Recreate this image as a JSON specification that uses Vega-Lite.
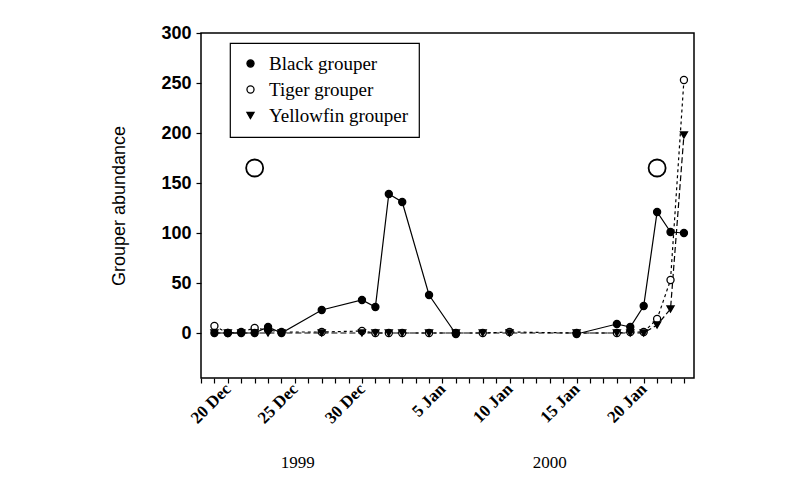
{
  "$schema": "https://vega.github.io/schema/vega-lite/v6.json",
  "autosize": {"type": "none"},
  "width": 493,
  "height": 345,
  "padding": {"left": 201, "top": 33, "right": 107, "bottom": 103},
  "background": "white",
  "config": {
    "view": {"stroke": "black", "strokeWidth": 1.5},
    "axis": {"labelColor": "black", "titleColor": "black", "tickColor": "black", "domain": false, "grid": false},
    "legend": {
      "orient": "none", "legendX": 29, "legendY": 10,
      "strokeColor": "black", "strokeWidth": 1.2, "padding": 11, "fillColor": "white",
      "labelFont": "Liberation Serif", "labelFontSize": 19, "labelColor": "black",
      "labelOffset": 9, "rowPadding": 6, "symbolSize": 50, "symbolStrokeWidth": 1.3
    }
  },
  "datasets": {
    "counts": [
      {"date": "1999-12-19", "species": "Tiger grouper", "n": 7},
      {"date": "1999-12-20", "species": "Tiger grouper", "n": 0},
      {"date": "1999-12-21", "species": "Tiger grouper", "n": 1},
      {"date": "1999-12-22", "species": "Tiger grouper", "n": 5},
      {"date": "1999-12-23", "species": "Tiger grouper", "n": 3},
      {"date": "1999-12-24", "species": "Tiger grouper", "n": 1},
      {"date": "1999-12-27", "species": "Tiger grouper", "n": 1},
      {"date": "1999-12-30", "species": "Tiger grouper", "n": 2},
      {"date": "1999-12-31", "species": "Tiger grouper", "n": 0},
      {"date": "2000-01-01", "species": "Tiger grouper", "n": 0},
      {"date": "2000-01-02", "species": "Tiger grouper", "n": 0},
      {"date": "2000-01-04", "species": "Tiger grouper", "n": 0},
      {"date": "2000-01-06", "species": "Tiger grouper", "n": 0},
      {"date": "2000-01-08", "species": "Tiger grouper", "n": 0},
      {"date": "2000-01-10", "species": "Tiger grouper", "n": 1},
      {"date": "2000-01-15", "species": "Tiger grouper", "n": 0},
      {"date": "2000-01-18", "species": "Tiger grouper", "n": 0},
      {"date": "2000-01-19", "species": "Tiger grouper", "n": 1},
      {"date": "2000-01-20", "species": "Tiger grouper", "n": 1},
      {"date": "2000-01-21", "species": "Tiger grouper", "n": 14},
      {"date": "2000-01-22", "species": "Tiger grouper", "n": 53},
      {"date": "2000-01-23", "species": "Tiger grouper", "n": 253},
      {"date": "1999-12-19", "species": "Black grouper", "n": 0},
      {"date": "1999-12-20", "species": "Black grouper", "n": 0},
      {"date": "1999-12-21", "species": "Black grouper", "n": 0},
      {"date": "1999-12-22", "species": "Black grouper", "n": 0},
      {"date": "1999-12-23", "species": "Black grouper", "n": 6},
      {"date": "1999-12-24", "species": "Black grouper", "n": 0},
      {"date": "1999-12-27", "species": "Black grouper", "n": 23},
      {"date": "1999-12-30", "species": "Black grouper", "n": 33},
      {"date": "1999-12-31", "species": "Black grouper", "n": 26},
      {"date": "2000-01-01", "species": "Black grouper", "n": 139},
      {"date": "2000-01-02", "species": "Black grouper", "n": 131},
      {"date": "2000-01-04", "species": "Black grouper", "n": 38},
      {"date": "2000-01-06", "species": "Black grouper", "n": -1},
      {"date": "2000-01-08", "species": "Black grouper", "n": null},
      {"date": "2000-01-10", "species": "Black grouper", "n": null},
      {"date": "2000-01-15", "species": "Black grouper", "n": -1},
      {"date": "2000-01-18", "species": "Black grouper", "n": 9},
      {"date": "2000-01-19", "species": "Black grouper", "n": 6},
      {"date": "2000-01-20", "species": "Black grouper", "n": 27},
      {"date": "2000-01-21", "species": "Black grouper", "n": 121},
      {"date": "2000-01-22", "species": "Black grouper", "n": 101},
      {"date": "2000-01-23", "species": "Black grouper", "n": 100},
      {"date": "1999-12-19", "species": "Yellowfin grouper", "n": 0},
      {"date": "1999-12-20", "species": "Yellowfin grouper", "n": 0},
      {"date": "1999-12-21", "species": "Yellowfin grouper", "n": 0},
      {"date": "1999-12-22", "species": "Yellowfin grouper", "n": 0},
      {"date": "1999-12-23", "species": "Yellowfin grouper", "n": 0},
      {"date": "1999-12-24", "species": "Yellowfin grouper", "n": 0},
      {"date": "1999-12-27", "species": "Yellowfin grouper", "n": 0},
      {"date": "1999-12-30", "species": "Yellowfin grouper", "n": 0},
      {"date": "1999-12-31", "species": "Yellowfin grouper", "n": 0},
      {"date": "2000-01-01", "species": "Yellowfin grouper", "n": 0},
      {"date": "2000-01-02", "species": "Yellowfin grouper", "n": 0},
      {"date": "2000-01-04", "species": "Yellowfin grouper", "n": 0},
      {"date": "2000-01-06", "species": "Yellowfin grouper", "n": 0},
      {"date": "2000-01-08", "species": "Yellowfin grouper", "n": 0},
      {"date": "2000-01-10", "species": "Yellowfin grouper", "n": 0},
      {"date": "2000-01-15", "species": "Yellowfin grouper", "n": 0},
      {"date": "2000-01-18", "species": "Yellowfin grouper", "n": 0},
      {"date": "2000-01-19", "species": "Yellowfin grouper", "n": 0},
      {"date": "2000-01-20", "species": "Yellowfin grouper", "n": 0},
      {"date": "2000-01-21", "species": "Yellowfin grouper", "n": 8},
      {"date": "2000-01-22", "species": "Yellowfin grouper", "n": 24},
      {"date": "2000-01-23", "species": "Yellowfin grouper", "n": 198}
    ],
    "moons": [
      {"date": "1999-12-22", "phase": "full moon"},
      {"date": "2000-01-21", "phase": "full moon"}
    ],
    "years": [
      {"date": "1999-12-25T05:00:00Z", "year": "1999"},
      {"date": "2000-01-13T00:00:00Z", "year": "2000"}
    ]
  },
  "encoding": {
    "x": {
      "field": "date", "type": "temporal",
      "scale": {"type": "utc", "domain": [{"year": 1999, "month": 12, "date": 18, "utc": true}, {"year": 2000, "month": 1, "date": 23, "hours": 18, "utc": true}], "nice": false},
      "axis": {
        "title": null,
        "tickCount": {"interval": "day", "step": 1},
        "labelExpr": "indexof(['20 Dec','25 Dec','30 Dec','5 Jan','10 Jan','15 Jan','20 Jan'], utcFormat(datum.value, '%-d %b')) >= 0 ? utcFormat(datum.value, '%-d %b') : ''",
        "labelAngle": -45,
        "labelAlign": "right",
        "labelBaseline": "middle",
        "labelOverlap": false,
        "labelFlush": false,
        "labelFont": "Liberation Serif",
        "labelFontSize": 17,
        "labelFontWeight": "bold",
        "labelPadding": 3,
        "tickSize": 5,
        "tickWidth": 1.2
      }
    }
  },
  "layer": [
    {
      "data": {"name": "counts"},
      "transform": [{"filter": "datum.species == 'Black grouper'"}],
      "mark": {"type": "line", "color": "black", "strokeWidth": 1.2, "invalid": "break-paths-filter-domains"},
      "encoding": {
        "y": {
          "field": "n", "type": "quantitative",
          "scale": {"domain": [-45, 300], "nice": false, "zero": false},
          "axis": {
            "title": "Grouper abundance",
            "values": [0, 50, 100, 150, 200, 250, 300],
            "labelFont": "Liberation Sans",
            "labelFontSize": 18,
            "labelFontWeight": "bold",
            "labelPadding": 5,
            "tickSize": 5,
            "tickWidth": 1.2,
            "titleFont": "Liberation Sans",
            "titleFontSize": 18,
            "titleFontWeight": "normal",
            "titlePadding": 32
          }
        }
      }
    },
    {
      "data": {"name": "counts"},
      "transform": [{"filter": "datum.species == 'Tiger grouper'"}],
      "mark": {"type": "line", "color": "black", "strokeWidth": 1.2, "strokeDash": [3, 3]},
      "encoding": {"y": {"field": "n", "type": "quantitative"}}
    },
    {
      "data": {"name": "counts"},
      "transform": [{"filter": "datum.species == 'Yellowfin grouper'"}],
      "mark": {"type": "line", "color": "black", "strokeWidth": 1.2, "strokeDash": [6, 3]},
      "encoding": {"y": {"field": "n", "type": "quantitative"}}
    },
    {
      "data": {"name": "counts"},
      "mark": {"type": "point", "strokeWidth": 1.3, "size": 50, "opacity": 1},
      "encoding": {
        "y": {"field": "n", "type": "quantitative"},
        "shape": {
          "field": "species", "type": "nominal",
          "scale": {"domain": ["Black grouper", "Tiger grouper", "Yellowfin grouper"], "range": ["circle", "circle", "triangle-down"]},
          "legend": {"title": null}
        },
        "fill": {
          "field": "species", "type": "nominal",
          "scale": {"domain": ["Black grouper", "Tiger grouper", "Yellowfin grouper"], "range": ["black", "white", "black"]},
          "legend": {"title": null}
        },
        "stroke": {
          "field": "species", "type": "nominal",
          "scale": {"domain": ["Black grouper", "Tiger grouper", "Yellowfin grouper"], "range": ["black", "black", "black"]},
          "legend": {"title": null}
        }
      }
    },
    {
      "data": {"name": "moons"},
      "mark": {"type": "point", "shape": "circle", "size": 290, "stroke": "black", "strokeWidth": 1.8, "filled": false, "opacity": 1},
      "encoding": {
        "y": {"datum": 165}
      }
    },
    {
      "data": {"name": "years"},
      "mark": {"type": "text", "font": "Liberation Serif", "fontSize": 17, "color": "black", "clip": false, "baseline": "middle"},
      "encoding": {
        "y": {"datum": -130},
        "text": {"field": "year"}
      }
    }
  ]
}
